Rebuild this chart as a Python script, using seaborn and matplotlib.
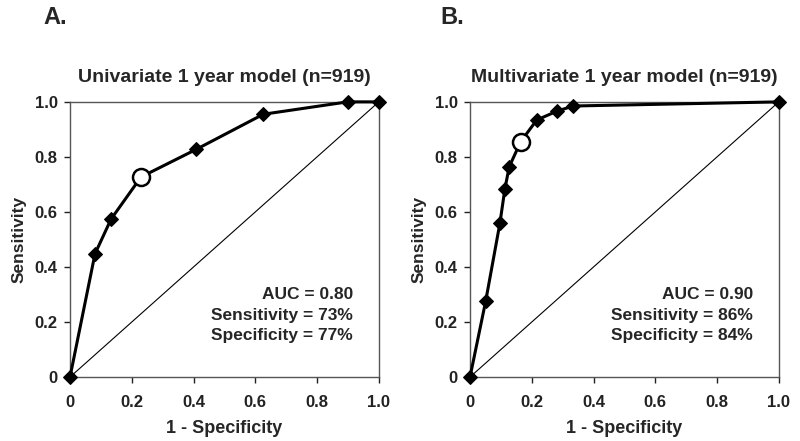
import numpy as np
import pandas as pd
import seaborn as sns
import matplotlib.pyplot as plt

# ROC points
uni_fpr = [0.0, 0.081, 0.133, 0.230, 0.408, 0.626, 0.899, 1.0]
uni_tpr = [0.0, 0.448, 0.574, 0.727, 0.827, 0.955, 1.0, 1.0]
uni_cut = (0.230, 0.727)

multi_fpr = [0.0, 0.051, 0.097, 0.113, 0.127, 0.164, 0.216, 0.283, 0.335, 1.0]
multi_tpr = [0.0, 0.277, 0.560, 0.684, 0.764, 0.855, 0.934, 0.967, 0.985, 1.0]
multi_cut = (0.164, 0.855)

titles = ['Univariate 1 year model (n=919)', 'Multivariate 1 year model (n=919)']
panel_labels = ['A.', 'B.']
stats = [['AUC = 0.80', 'Sensitivity = 73%', 'Specificity = 77%'],
         ['AUC = 0.90', 'Sensitivity = 86%', 'Specificity = 84%']]
ticks = [0, 0.2, 0.4, 0.6, 0.8, 1.0]
tick_labels = ['0', '0.2', '0.4', '0.6', '0.8', '1.0']

sns.set_style('white')
plt.rcParams['font.family'] = ['Liberation Sans', 'DejaVu Sans']
plt.rcParams['font.weight'] = 'bold'

fig = plt.figure(figsize=(8, 4.41), dpi=100)
axes = [fig.add_axes([0.0875, 0.145, 0.386, 0.624]),
        fig.add_axes([0.5875, 0.145, 0.386, 0.624])]

curves = [(uni_fpr, uni_tpr, uni_cut), (multi_fpr, multi_tpr, multi_cut)]

for i, ax in enumerate(axes):
    fpr, tpr, cut = curves[i]
    df = pd.DataFrame({'fpr': fpr, 'tpr': tpr})

    # diagonal reference line
    ax.plot([0, 1], [0, 1], color='black', linewidth=0.8, zorder=1)

    # ROC curve
    sns.lineplot(data=df, x='fpr', y='tpr', sort=False, color='black',
                 linewidth=2.2, marker='D', markersize=7.5, markeredgecolor='black',
                 ax=ax, clip_on=False, zorder=3)
    # chosen cut-off point
    sns.scatterplot(x=[cut[0]], y=[cut[1]], s=150, marker='o', facecolor='white',
                    edgecolor='black', linewidth=1.8, ax=ax, clip_on=False, zorder=4)

    ax.set_xlim(0, 1)
    ax.set_ylim(0, 1)
    ax.set_xticks(ticks)
    ax.set_xticklabels(tick_labels)
    ax.set_yticks(ticks)
    ax.set_yticklabels(tick_labels)
    ax.tick_params(axis='both', which='both', direction='out', length=4, width=1,
                   labelsize=12, colors='#222222', bottom=True, left=True, pad=5)
    ax.tick_params(axis='x', pad=9)
    for side in ['left', 'bottom', 'top', 'right']:
        ax.spines[side].set_visible(True)
        ax.spines[side].set_color('#555555')
        ax.spines[side].set_linewidth(1)

    ax.set_xlabel('1 - Specificity', fontsize=13, fontweight='bold', labelpad=7)
    ax.set_ylabel('Sensitivity', fontsize=12.5, fontweight='bold', labelpad=6)
    ax.set_title(titles[i], fontsize=14, fontweight='bold', pad=14)

    for j, line in enumerate(stats[i]):
        ax.text(0.916, 0.30 - j * 0.075, line, ha='right', va='center',
                fontsize=12.5, fontweight='bold', transform=ax.transData)

fig.text(0.054, 0.96, panel_labels[0], fontsize=17, fontweight='bold', va='center')
fig.text(0.55, 0.96, panel_labels[1], fontsize=17, fontweight='bold', va='center')

fig.savefig('out.png', dpi=100, facecolor='white')
